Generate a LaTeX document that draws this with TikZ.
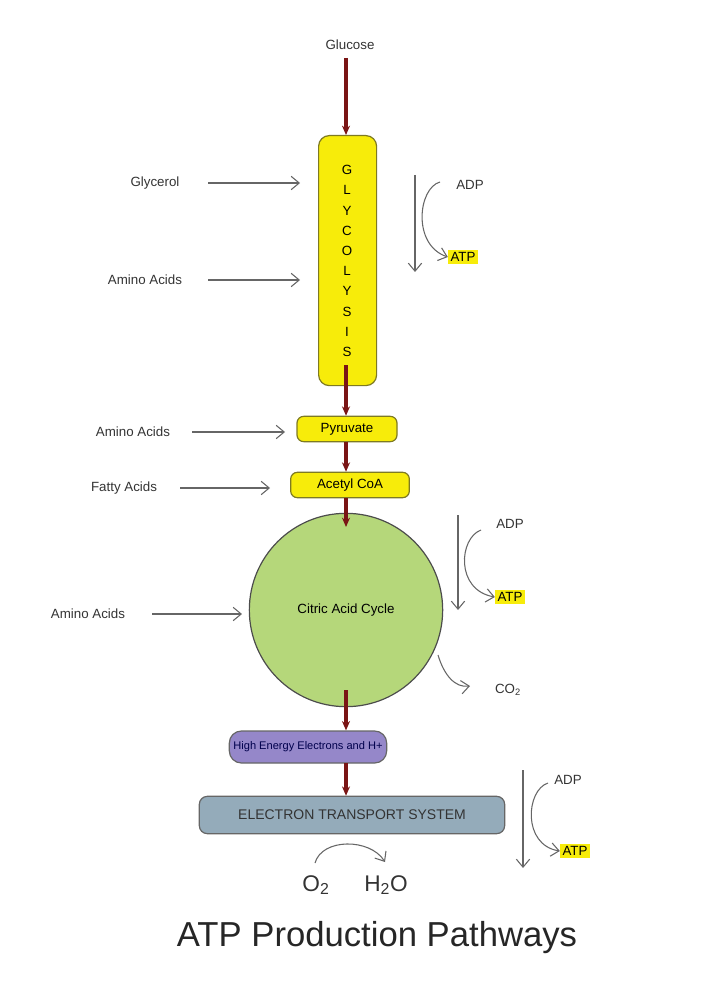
\documentclass[tikz,border=0pt]{standalone}
\usepackage{fontspec}
\setmainfont{Liberation Sans}
\usetikzlibrary{arrows.meta}
\definecolor{yel}{HTML}{F7EC0A}
\definecolor{yelb}{HTML}{7E7A22}
\definecolor{darkred}{HTML}{7A1515}
\definecolor{cgreen}{HTML}{B5D77A}
\definecolor{purp}{HTML}{9587C9}
\definecolor{ets}{HTML}{94ABBA}
\definecolor{txt}{HTML}{333333}
\begin{document}
\begin{tikzpicture}[x=0.75pt,y=-0.75pt,
  lbl/.style={font=\fontsize{10}{12}\selectfont,text=txt},
  box/.style={draw=yelb,fill=yel,rounded corners=5pt,line width=0.9pt,font=\fontsize{10}{12}\selectfont},
  main/.style={draw=darkred,line width=2.6pt,-{Stealth[length=7pt,width=6pt]}},
  side/.style={draw=gray!80!black,line width=0.8pt,-{Straight Barb[length=6pt,width=10pt]}},
  hl/.style={fill=yel,inner sep=1.8pt,font=\fontsize{10}{12}\selectfont}]
\useasboundingbox (0,0) rectangle (720,994);
% glycolysis
\node[box,anchor=north west,inner sep=0pt,minimum width=43.5pt,minimum height=187.5pt,rounded corners=8pt] (gly) at (318,135) {};
\foreach \l [count=\i] in {G,L,Y,C,O,L,Y,S,I,S}
  \node[font=\fontsize{10}{12}\selectfont] (g\i) at (347,150+20.2*\i) {\l};
\node[lbl] (glu) at (350,45) {Glucose};
\node[box,minimum width=75pt,minimum height=19pt,inner sep=0pt] (pyr) at (347,429) {Pyruvate};
\node[box,minimum width=89pt,minimum height=19pt,inner sep=0pt] (acc) at (350,485) {Acetyl CoA};
\node[circle,draw=black!70,fill=cgreen,line width=0.9pt,minimum size=145pt,inner sep=0pt,font=\fontsize{10}{12}\selectfont] (cac) at (346,610) {Citric Acid Cycle};
\node[draw=black!60,fill=purp,rounded corners=9pt,minimum width=118pt,minimum height=24pt,inner sep=0pt,line width=0.9pt,text=blue!30!black,font=\fontsize{8.3}{10}\selectfont] (hee) at (308,747) {High Energy Electrons and H+};
\node[draw=black!60,fill=ets,rounded corners=6pt,minimum width=229pt,minimum height=28pt,inner sep=0pt,line width=0.9pt,text=txt,font=\fontsize{10.5}{12}\selectfont] (ets) at (352,815) {ELECTRON TRANSPORT SYSTEM};
% main arrows
\coordinate (a0) at (346,58);
\draw[main] (a0) -- (gly.north -| a0);
\draw[main] (346,365) -- (pyr.north -| 346,0);
\draw[main] (346,442) -- (acc.north -| 346,0);
\draw[main] (346,498) -- (346,527);
\draw[main] (346,690) -- (hee.north -| 346,0);
\draw[main] (346,763) -- (ets.north -| 346,0);
% inputs
\node[lbl] (gcl) at (155,183) {Glycerol};
\node[lbl] (aa1) at (145,280) {Amino Acids};
\node[lbl] (aa2) at (133,432) {Amino Acids};
\node[lbl] (fa) at (124,488) {Fatty Acids};
\node[lbl] (aa3) at (88,614) {Amino Acids};
\draw[side] (208,183) -- (300,183);
\draw[side] (208,280) -- (300,280);
\draw[side] (192,432) -- (285,432);
\draw[side] (180,488) -- (270,488);
\draw[side] (152,614) -- (242,614);
% ADP/ATP 1
\node[lbl] (adp1) at (470,185) {ADP};
\node[hl] (atp1) at (463,257) {ATP};
\draw[side] (415,175) -- (415,272);
\draw[side] (440,182) .. controls (418,188) and (412,245) .. (atp1.west);
% ADP/ATP 2
\node[lbl] (adp2) at (510,524) {ADP};
\node[hl] (atp2) at (510,597) {ATP};
\draw[side] (458,515) -- (458,610);
\draw[side] (481,530) .. controls (459,538) and (455,590) .. (atp2.west);
% CO2
\node[lbl] (co2) at (508,690) {CO\textsubscript{2}};
\draw[side] (438,655) .. controls (444,675) and (455,688) .. (470,686);
% ADP/ATP 3
\node[lbl] (adp3) at (568,780) {ADP};
\node[hl] (atp3) at (575,851) {ATP};
\draw[side] (523,770) -- (523,868);
\draw[side] (548,783) .. controls (526,790) and (522,845) .. (atp3.west);
% O2 H2O
\node[font=\fontsize{17}{20}\selectfont,text=txt] (o2) at (316,885) {O\textsubscript{2}};
\node[font=\fontsize{17}{20}\selectfont,text=txt] (h2o) at (386,885) {H\textsubscript{2}O};
\draw[side] (315,863) .. controls (322,838) and (370,838) .. (385,862);
% title
\node[font=\fontsize{26}{30}\selectfont,text=black!85] (title) at (377,938) {ATP Production Pathways};
\end{tikzpicture}
\end{document}
